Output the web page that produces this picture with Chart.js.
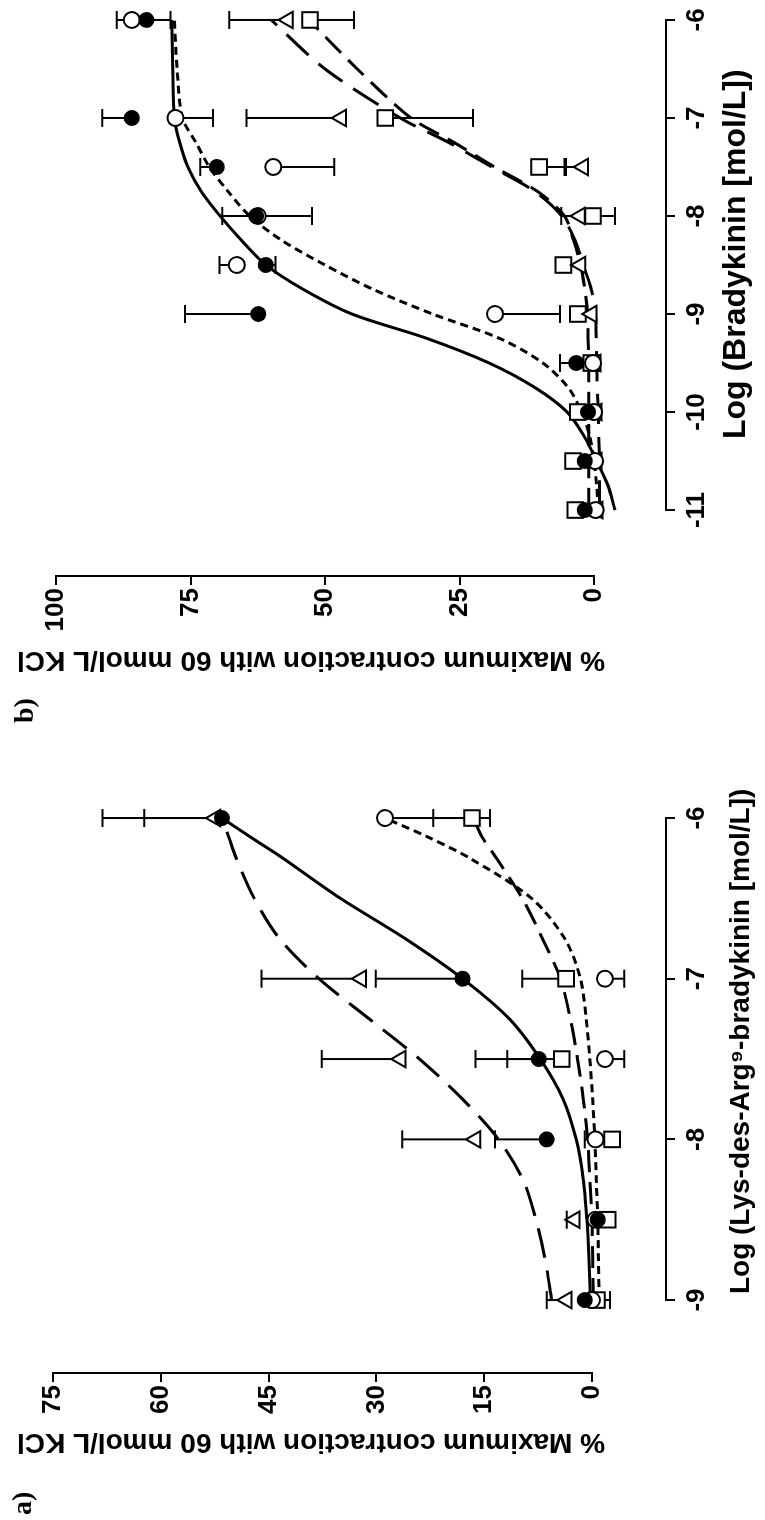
<!DOCTYPE html>
<html>
<head>
<meta charset="utf-8">
<script src="https://cdn.jsdelivr.net/npm/chart.js@4.4.1/dist/chart.umd.min.js"></script>
<style>
  html, body { margin: 0; padding: 0; background: #fff; overflow: hidden; }
  /* the figure is laid out landscape and turned a quarter turn, like the scan */
  #page { position: absolute; left: 0; top: 0; width: 1520px; height: 765px;
          transform-origin: 0 0; transform: translate(0, 1520px) rotate(-90deg); }
  .panel { position: absolute; top: 0; width: 760px; height: 765px; }
  .tag { position: absolute; font: bold 28px "Liberation Serif", "DejaVu Serif", serif; color: #000; }
</style>
</head>
<body>
<div id="page">
  <div class="panel" style="left:0"><canvas id="chartA" width="760" height="765"></canvas></div>
  <div class="panel" style="left:760px"><canvas id="chartB" width="760" height="765"></canvas></div>
  <div class="tag" style="left:5px;top:6px">a)</div>
  <div class="tag" style="left:797px;top:8px">b)</div>
</div>
<script>
// ---- panel a: Lys-des-Arg9-bradykinin ----
const doseA = [-9, -8.5, -8, -7.5, -7, -6];
const filledA = [1.0, -0.8, 6.3, 7.4, 18.0, 51.5];
const filledErrA = [0, 0, 7.2, 4.4, 12.1, 10.8];
const openA = [0.0, -0.5, -0.5, -1.8, -1.8, 28.8];
const openErrA = [0, 0, 1.5, -2.7, -2.7, -14.6];
const triA = [3.5, 2.4, 16.2, 26.6, 32.1, 52.4];
const triErrA = [2.8, 1.1, 10.2, 11.0, 13.9, 15.7];
const squareA = [-0.7, -2.2, -2.8, 4.2, 3.6, 16.7];
const squareErrA = [-1.8, 0, 0, 12.0, 6.1, 5.4];

const fitDoseA = [-9, -8.75, -8.5, -8.25, -8, -7.75, -7.5, -7.25, -7, -6.75, -6.5, -6.25, -6.125, -6];
const fitFilledA = [0.2, 0.4, 0.7, 1.2, 2.2, 4.0, 7.2, 11.5, 18.0, 26.0, 35.0, 43.0, 47.3, 51.5];
const fitOpenA = [-1.0, -0.9, -0.8, -0.6, -0.4, -0.1, 0.3, 0.8, 1.6, 3.8, 8.4, 17.0, 22.5, 28.8];
const fitTriA = [5.6, 6.5, 7.8, 9.6, 13.0, 18.0, 24.0, 31.0, 38.0, 43.5, 47.0, 49.5, 50.5, 51.5];
const fitSquareA = [-0.2, -0.1, 0.0, 0.3, 0.6, 1.2, 2.0, 3.0, 4.4, 6.9, 9.7, 13.3, 15.2, 16.5];

const xTicksA = [-9, -8, -7, -6];
const yTicksA = [0, 15, 30, 45, 60, 75];

// ---- panel b: bradykinin ----
const doseB = [-11, -10.5, -10, -9.5, -9, -8.5, -8, -7.5, -7, -6];
const filledB = [1.7, 1.7, 1.1, 3.3, 62.4, 61.0, 62.8, 70.1, 85.9, 83.2];
const filledErrB = [0, 0, 0, 3.0, 13.6, -1.8, -10.4, 3.1, 5.5, -4.5];
const openB = [-0.3, -0.2, 0.0, 0.2, 18.4, 66.4, 62.5, 59.6, 77.8, 85.9];
const openErrB = [0, 0, 0, 0, -12.1, 3.2, 6.6, -11.3, -7.0, 2.8];
const triB = [-0.7, -0.5, -0.5, -0.3, 0.4, 2.5, 2.6, 2.0, 47.0, 56.9];
const triErrB = [0, 0, 0, 0, 0, 0, 3.5, 3.5, 17.6, 10.9];
const squareB = [3.5, 3.9, 3.0, 0.5, 3.0, 5.7, 0.2, 10.2, 38.8, 52.8];
const squareErrB = [0, 0, 0, 0, 0, 0, -4.1, -5.0, -16.3, -8.2];

const fitDoseB = [-11, -10.75, -10.5, -10.25, -10, -9.75, -9.5, -9.25, -9, -8.75, -8.5, -8.25, -8, -7.75, -7.5, -7.25, -7, -6.5, -6];
const fitFilledB = [-3.9, -2.6, -0.5, 1.8, 5.0, 11.0, 19.5, 31.0, 45.0, 54.0, 61.0, 65.5, 69.5, 73.0, 75.5, 77.0, 78.0, 78.3, 78.5];
const fitOpenB = [-0.8, -0.5, 0.0, 0.8, 2.3, 4.8, 9.5, 17.5, 30.0, 41.0, 50.0, 58.0, 64.0, 68.0, 71.5, 74.0, 76.5, 77.5, 78.0];
const fitTriB = [-1.0, -1.0, -1.0, -0.9, -0.8, -0.6, -0.5, -0.4, -0.3, 0.5, 2.0, 3.5, 6.0, 11.0, 19.0, 27.0, 36.0, 50.0, 60.0];
const fitSquareB = [1.0, 1.0, 1.0, 1.0, 1.0, 1.0, 1.0, 1.1, 1.2, 1.7, 2.5, 3.8, 5.5, 10.5, 18.5, 26.0, 34.0, 44.0, 53.0];

const xTicksB = [-11, -10, -9, -8, -7, -6];
const yTicksB = [0, 25, 50, 75, 100];

const yTitle = '% Maximum contraction with 60 mmol/L KCl';
const sans = '"Liberation Sans", Arial, sans-serif';

function pts(xs, ys) {
    return xs.map((x, i) => ({ x: x, y: ys[i] }));
}

function markers(xs, ys, errs, style, fill, radius) {
    return {
        type: 'scatter', data: pts(xs, ys), errors: errs,
        pointStyle: style, pointRadius: radius, pointBackgroundColor: fill,
        pointBorderColor: '#000', pointBorderWidth: 2, showLine: false, clip: false, order: 0
    };
}

function curve(xs, ys, dash) {
    return {
        type: 'line', data: pts(xs, ys), borderColor: '#000', borderWidth: 3, borderDash: dash,
        pointRadius: 0, tension: 0.3, fill: false, clip: false, order: 1
    };
}

// one-sided error bars, under everything else
const errorBars = {
    id: 'errorBars',
    beforeDatasetsDraw(chart) {
        const { ctx, scales: { x, y } } = chart;
        ctx.save();
        ctx.strokeStyle = '#000';
        ctx.lineWidth = 2;
        chart.data.datasets.forEach(ds => {
            if (!ds.errors) return;
            ds.data.forEach((p, i) => {
                const e = ds.errors[i];
                if (!e) return;
                const px = x.getPixelForValue(p.x);
                const y0 = y.getPixelForValue(p.y);
                const y1 = y.getPixelForValue(p.y + e);
                ctx.beginPath();
                ctx.moveTo(px, y0);
                ctx.lineTo(px, y1);
                ctx.moveTo(px - 9, y1);
                ctx.lineTo(px + 9, y1);
                ctx.stroke();
            });
        });
        ctx.restore();
    }
};

// offset axis lines (they only span the ticked range) and the axis titles
const axisDecor = {
    id: 'axisDecor',
    afterDraw(chart, args, o) {
        const { ctx, chartArea, scales: { x, y } } = chart;
        ctx.save();
        ctx.strokeStyle = '#000';
        ctx.lineWidth = 2;
        ctx.beginPath();
        ctx.moveTo(x.getPixelForValue(o.xTicks[0]) - 1, chartArea.bottom);
        ctx.lineTo(x.getPixelForValue(o.xTicks[o.xTicks.length - 1]) + 1, chartArea.bottom);
        ctx.moveTo(chartArea.left, y.getPixelForValue(o.yTicks[0]) + 1);
        ctx.lineTo(chartArea.left, y.getPixelForValue(o.yTicks[o.yTicks.length - 1]) - 1);
        ctx.stroke();

        ctx.fillStyle = '#000';
        ctx.textAlign = 'center';
        ctx.textBaseline = 'middle';
        ctx.font = o.xFont;
        ctx.fillText(o.xText, x.getPixelForValue(o.xAt), o.xTitleY);
        ctx.translate(o.yTitleX, y.getPixelForValue(o.yAt));
        ctx.rotate(-Math.PI / 2);
        ctx.font = o.yFont;
        ctx.fillText(yTitle, 0, 0);
        ctx.restore();
    }
};

function buildChart(id, c) {
    const tickFont = { family: sans, size: 26, weight: 'bold' };
    return new Chart(document.getElementById(id), {
        type: 'scatter',
        data: {
            datasets: [
                markers(c.dose, c.filled, c.filledErr, 'circle', '#000', 7),
                markers(c.dose, c.open, c.openErr, 'circle', '#fff', 8),
                markers(c.dose, c.tri, c.triErr, 'triangle', '#fff', 9.5),
                markers(c.dose, c.square, c.squareErr, 'rect', '#fff', 11),
                curve(c.fitDose, c.fitFilled, []),
                curve(c.fitDose, c.fitOpen, [8, 5]),
                curve(c.fitDose, c.fitTri, [30, 13]),
                curve(c.fitDose, c.fitSquare, [22, 10])
            ]
        },
        options: {
            responsive: false,
            animation: false,
            devicePixelRatio: 1,
            events: [],
            layout: { padding: { top: c.padTop, right: c.padRight, left: 0, bottom: 0 } },
            plugins: {
                legend: { display: false },
                tooltip: { enabled: false },
                axisDecor: {
                    xTicks: c.xTicks, yTicks: c.yTicks,
                    xText: c.xText, xFont: c.xFont, xAt: c.xAt, xTitleY: c.xTitleY,
                    yFont: 'bold 28px ' + sans, yAt: c.yAt, yTitleX: c.yTitleX
                }
            },
            scales: {
                x: {
                    type: 'linear', min: c.xMin, max: c.xMax,
                    afterBuildTicks: s => { s.ticks = c.xTicks.map(v => ({ value: v })); },
                    afterFit: s => { s.height = 99; },
                    grid: { drawOnChartArea: false, tickLength: 9, color: '#000', lineWidth: 2 },
                    border: { display: false },
                    ticks: { font: tickFont, color: '#000', padding: 6, maxRotation: 0, autoSkip: false }
                },
                y: {
                    type: 'linear', min: c.yMin, max: c.yMax,
                    afterBuildTicks: s => { s.ticks = c.yTicks.map(v => ({ value: v })); },
                    afterFit: s => { s.width = c.yWidth; },
                    grid: { drawOnChartArea: false, tickLength: 9, color: '#000', lineWidth: 2 },
                    border: { display: false },
                    ticks: { font: tickFont, color: '#000', padding: 3, autoSkip: false }
                }
            }
        },
        plugins: [errorBars, axisDecor]
    });
}

buildChart('chartA', {
    dose: doseA, filled: filledA, filledErr: filledErrA, open: openA, openErr: openErrA,
    tri: triA, triErr: triErrA, square: squareA, squareErr: squareErrA,
    fitDose: fitDoseA, fitFilled: fitFilledA, fitOpen: fitOpenA, fitTri: fitTriA, fitSquare: fitSquareA,
    xTicks: xTicksA, yTicks: yTicksA,
    xMin: -9.454, xMax: -5.95, yMin: -10.3, yMax: 75,
    padTop: 53, padRight: 50, yWidth: 147,
    xText: 'Log (Lys-des-Arg\u2079-bradykinin [mol/L])', xFont: 'bold 28px ' + sans, xAt: -7.39, xTitleY: 741,
    yAt: 39.1, yTitleX: 78
});

buildChart('chartB', {
    dose: doseB, filled: filledB, filledErr: filledErrB, open: openB, openErr: openErrB,
    tri: triB, triErr: triErrB, square: squareB, squareErr: squareErrB,
    fitDose: fitDoseB, fitFilled: fitFilledB, fitOpen: fitOpenB, fitTri: fitTriB, fitSquare: fitSquareB,
    xTicks: xTicksB, yTicks: yTicksB,
    xMin: -11.673, xMax: -5.929, yMin: -13.38, yMax: 100,
    padTop: 56, padRight: 13, yWidth: 184,
    xText: 'Log (Bradykinin [mol/L])', xFont: 'bold 32px ' + sans, xAt: -8.39, xTitleY: 736,
    yAt: 52.6, yTitleX: 100
});
</script>
</body>
</html>
